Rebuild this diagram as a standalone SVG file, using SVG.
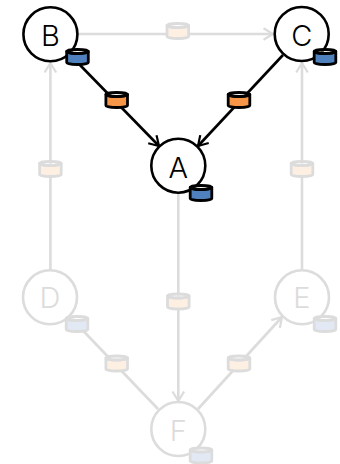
<svg xmlns="http://www.w3.org/2000/svg" xmlns:xlink="http://www.w3.org/1999/xlink" width="340" height="464" viewBox="0 0 340 464">
<style>
.e{fill:none;stroke-width:2.6}
.k{stroke:#000}
.g{stroke:#dcdcdc}
.n{stroke-width:2.6;fill:#fff}
.t{font-family:"Inter","Liberation Sans",Arial,sans-serif;font-weight:300;font-size:29px;text-anchor:middle}
.c{stroke-width:2.8;stroke-linejoin:round}
.on{stroke:#000}
.off{stroke:#dcdcdc}
.blue{fill:#4e81bd}
.orange{fill:#f79646}
.lblue{fill:#e2e9f4}
.lorange{fill:#fdf0e3}
</style>
<defs>
<marker id="ak" markerUnits="userSpaceOnUse" markerWidth="14" markerHeight="14" refX="11" refY="7" orient="auto"><path d="M1.500 1.200L11 7L1.500 12.800" fill="none" stroke="#000" stroke-width="2.200"/></marker>
<marker id="ag" markerUnits="userSpaceOnUse" markerWidth="14" markerHeight="14" refX="11" refY="7" orient="auto"><path d="M1.500 1.200L11 7L1.500 12.800" fill="none" stroke="#dcdcdc" stroke-width="2.200"/></marker>
<g id="cyl"><path d="M-10.800-5.500V5.500A10.800 2 0 0 0 10.800 5.500V-5.500A10.800 2 0 0 1-10.800-5.500Z"/><ellipse cx="0" cy="-5.500" rx="10.800" ry="2" fill="#fff" fill-opacity=".4"/></g>
</defs>
<g id="connectors">
<path class="e g" marker-end="url(#ag)" d="M78 34H273"/>
<path class="e g" marker-end="url(#ag)" d="M50.400 270V63"/>
<path class="e g" marker-end="url(#ag)" d="M302 270V63"/>
<path class="e g" marker-end="url(#ag)" d="M178.300 193V401"/>
<path class="e g" d="M70 317L158 409"/>
<path class="e g" marker-end="url(#ag)" d="M198 409L282 317"/>
<path class="e k" marker-end="url(#ak)" d="M78 63L159 146"/>
<path class="e k" marker-end="url(#ak)" d="M283 55L198 146"/>
</g>
<g id="edge-cylinders">
<use xlink:href="#cyl" x="177.800" y="31" class="c off lorange"/>
<use xlink:href="#cyl" x="50.400" y="169" class="c off lorange"/>
<use xlink:href="#cyl" x="302" y="169" class="c off lorange"/>
<use xlink:href="#cyl" x="178.300" y="301.500" class="c off lorange"/>
<use xlink:href="#cyl" x="116.700" y="363.500" class="c off lorange"/>
<use xlink:href="#cyl" x="239" y="363.500" class="c off lorange"/>
<use xlink:href="#cyl" x="116.700" y="100" class="c on orange"/>
<use xlink:href="#cyl" x="239" y="100" class="c on orange"/>
</g>
<g id="node-D"><circle class="n g" cx="50" cy="297.300" r="27"/><text class="t" x="50" y="308" fill="#dcdcdc">D</text><use xlink:href="#cyl" x="77" y="324" class="c off lblue"/></g>
<g id="node-E"><circle class="n g" cx="302" cy="297.300" r="27"/><text class="t" x="302" y="308" fill="#dcdcdc">E</text><use xlink:href="#cyl" x="325" y="324" class="c off lblue"/></g>
<g id="node-F"><circle class="n g" cx="178.300" cy="429" r="27"/><text class="t" x="178.300" y="441" fill="#dcdcdc">F</text><use xlink:href="#cyl" x="201" y="455.500" class="c off lblue"/></g>
<g id="node-B"><circle class="n k" cx="50.400" cy="34.300" r="27"/><text class="t" x="50.400" y="46">B</text><use xlink:href="#cyl" x="77.500" y="57" class="c on blue"/></g>
<g id="node-C"><circle class="n k" cx="301.700" cy="34" r="27"/><text class="t" x="301.700" y="45.500">C</text><use xlink:href="#cyl" x="325" y="57" class="c on blue"/></g>
<g id="node-A"><circle class="n k" cx="178.300" cy="165.700" r="27"/><text class="t" x="178.300" y="178">A</text><use xlink:href="#cyl" x="201" y="193" class="c on blue"/></g>
</svg>
